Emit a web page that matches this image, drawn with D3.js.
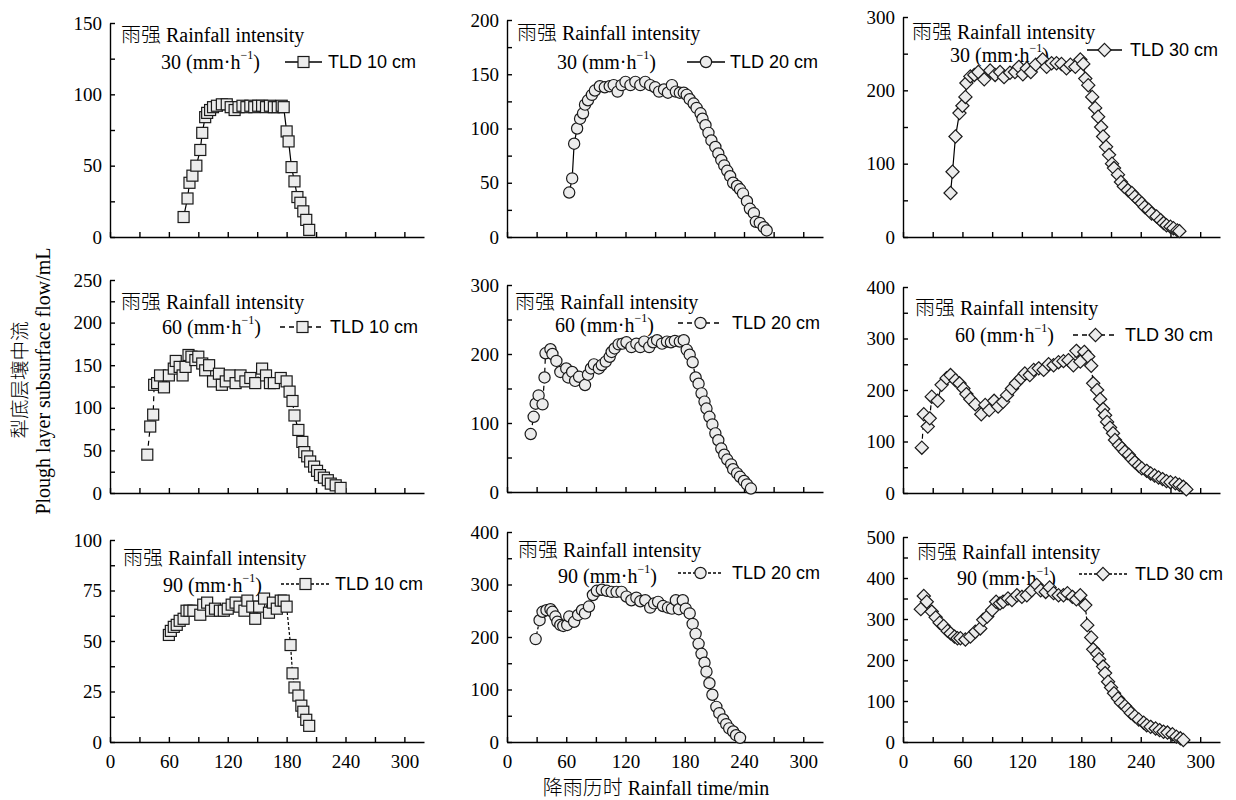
<!DOCTYPE html>
<html><head><meta charset="utf-8">
<script src="https://cdn.jsdelivr.net/npm/d3@7"></script>
<style>body{margin:0;background:#fff}</style>
</head><body>
<svg id="c" width="1236" height="800"></svg>
<script>
// ---- data: rainfall time (min) and plough-layer subsurface flow (mL) ----
const t10_i30 = [75,79,81,84,88,92,94,97,99,102,105,109,114,119,123,127,131,135,139,143,147,151,155,159,163,167,171,175,177,180,182,185,188,191,194,197,200,203];
const q10_i30 = [14,27,38,43,50,61,73,84,87,89,91,92,93,93,91,89,91,92,91,92,91,92,92,91,92,91,91,92,91,74,67,49,39,28,24,18,12,5];

const t20_i30 = [63,66,68,71,74,77,79,82,86,89,94,99,104,108,112,116,120,125,130,135,140,145,150,154,159,163,167,171,175,179,182,185,189,192,196,198,201,204,207,211,214,217,220,223,226,229,233,236,239,243,246,250,252,256,260,263];
const q20_i30 = [41,54,86,100,109,114,122,126,131,135,139,138,139,140,134,140,143,140,143,140,143,140,138,134,136,133,140,134,133,133,131,127,123,119,114,109,103,96,89,83,77,71,66,61,56,50,47,44,40,33,26,22,14,13,9,6];

const t30_i30 = [48,50,53,57,60,63,64,68,72,76,82,88,93,98,102,108,113,117,121,125,129,134,141,145,150,155,160,165,169,174,179,182,184,187,191,194,197,200,202,205,208,211,213,217,220,223,227,231,234,238,241,244,248,251,256,260,263,266,270,273,277,279];
const q30_i30 = [60,89,137,169,179,191,210,219,221,225,215,227,221,225,218,224,225,232,222,230,225,235,242,232,237,237,236,230,235,232,242,236,216,207,191,176,164,150,137,123,112,100,94,85,75,69,64,60,55,50,46,41,37,32,28,23,19,16,14,12,9,8];

const t10_i60 = [38,41,44,45,48,51,55,60,65,67,71,74,77,80,83,87,90,94,97,101,105,111,114,118,122,128,133,138,143,148,155,159,163,167,174,180,183,186,188,192,196,198,201,204,208,211,214,218,222,225,230,235];
const q10_i60 = [45,78,92,127,129,138,124,138,146,155,148,138,148,162,160,156,160,152,144,150,131,140,127,131,138,129,138,131,135,129,146,138,129,129,135,131,119,108,91,74,60,48,43,37,31,26,21,18,15,11,9,6];

const t20_i60 = [24,27,29,32,36,38,39,44,46,50,54,60,62,66,69,73,79,82,85,88,93,96,100,104,106,109,113,117,121,126,131,135,139,144,148,152,157,162,166,170,175,179,182,185,188,191,194,197,200,202,205,208,211,214,217,220,223,227,229,233,236,240,243,247];
const q20_i60 = [84,109,128,140,127,166,201,207,200,190,174,179,166,174,161,167,155,170,179,185,179,184,189,196,203,208,214,215,217,210,215,210,218,210,217,220,215,218,217,219,218,220,206,199,188,166,157,143,131,121,109,98,85,75,63,54,47,40,33,27,22,16,11,5];

const t30_i60 = [19,21,25,27,29,35,39,44,48,53,57,61,64,68,73,79,83,87,92,96,101,105,110,114,119,123,128,132,137,142,147,152,157,162,167,172,175,179,183,187,190,192,196,199,202,204,206,209,212,214,218,221,224,228,231,234,238,241,246,250,254,258,262,266,270,275,279,283,286];
const q30_i60 = [88,153,129,145,187,179,210,223,229,219,213,203,192,182,172,153,171,161,179,168,177,190,203,213,223,232,229,239,242,239,250,248,254,256,258,248,276,255,274,265,247,213,200,182,163,151,138,127,116,103,93,87,80,74,66,60,53,48,43,38,34,30,27,23,21,19,16,12,7];

const t10_i90 = [60,62,65,68,71,75,78,81,85,92,95,99,103,107,112,116,120,124,128,132,137,140,145,148,152,157,162,166,170,174,177,180,184,186,188,192,195,197,200,203];
const q10_i90 = [53,55,57,58,60,61,65,65,65,63,68,69,65,66,65,65,66,68,69,67,65,70,67,61,67,71,64,69,66,70,70,67,48,34,27,23,18,15,11,8];

const t20_i90 = [29,33,36,40,44,46,49,51,54,57,61,63,68,72,76,79,83,87,91,96,101,106,111,116,121,126,131,135,140,145,149,153,158,163,167,171,174,178,181,185,188,191,194,197,200,202,205,208,212,215,219,222,225,229,232,236];
const q20_i90 = [196,232,248,251,253,248,239,229,223,221,223,239,229,242,251,245,258,280,288,290,288,286,286,286,277,270,275,268,270,256,264,267,259,256,254,270,253,270,254,245,225,206,187,168,151,134,112,90,67,55,43,34,26,20,13,8];

const t30_i90 = [18,21,24,29,33,37,41,45,48,52,55,58,63,68,73,78,81,85,90,94,98,101,106,110,115,120,125,130,135,139,144,148,152,157,162,166,171,175,179,184,186,190,192,196,198,202,204,207,210,213,217,220,224,227,230,234,238,243,246,250,255,259,263,267,272,276,280,283];
const q30_i90 = [324,356,342,318,304,291,283,271,265,257,253,253,250,257,269,277,298,306,322,342,338,342,350,346,358,354,358,370,383,370,366,377,363,358,358,363,354,348,358,334,285,255,226,215,202,184,168,147,133,119,106,96,88,80,71,63,55,47,41,37,33,29,25,23,19,13,9,5];

const intensities = ["30","60","90"];
const depths = ["TLD 10 cm","TLD 20 cm","TLD 30 cm"];
const yMaxes = [[150,200,300],[250,300,400],[100,400,500]];
const yMajor = [[50,50,100],[50,100,100],[25,100,100]];
const xTicks = [0,30,60,90,120,150,180,210,240,270,300];
const titleText = "雨强 Rainfall intensity";
const xTitle = "降雨历时 Rainfall time/min";
const yTitle1 = "犁底层壤中流";
const yTitle2 = "Plough layer subsurface flow/mL";

const series = [
  [[t10_i30,q10_i30],[t20_i30,q20_i30],[t30_i30,q30_i30]],
  [[t10_i60,q10_i60],[t20_i60,q20_i60],[t30_i60,q30_i60]],
  [[t10_i90,q10_i90],[t20_i90,q20_i90],[t30_i90,q30_i90]]
];

// ---- layout (pixels) ----
const colL = [110,507,903];
const colW = [314,316,317];
const rowB = [[237,237,237],[493,492,493],[742,742,742]];
const rowT = [[23,20,17],[280,285,287],[540,532,537]];
// text offsets relative to (left, top): [l1x,l1y,l2x,l2y,legX1,legX2,legTx,legY]
const txt = [
  [[11,12,51,39,175,212,218,39],[10,13,50,42,180,218,223,42],[9,15,47,38,184,219,227,33]],
  [[11,22,52,47,170,215,220,47],[8,17,48,40,171,216,225,38],[12,21,52,48,170,215,222,48]],
  [[13,18,53,45,171,220,225,44],[11,18,51,44,171,216,225,41],[14,15,54,41,176,224,232,37]]
];
const dashes = [null,"5,4","3,2"];
const markers = ["square","circle","diamond"];

const svg = d3.select("#c");
const serif = "'Liberation Serif','Times New Roman','Noto Sans CJK SC',serif";
const sans = "'Liberation Sans',Arial,sans-serif";

function drawMarker(g, type, x, y) {
  const fill = "#ececec", stroke = "#1a1a1a", sw = 1.2;
  if (type === "square") {
    g.append("rect").attr("x", x-5.5).attr("y", y-5.5).attr("width", 11).attr("height", 11)
      .attr("fill", fill).attr("stroke", stroke).attr("stroke-width", sw);
  } else if (type === "circle") {
    g.append("circle").attr("cx", x).attr("cy", y).attr("r", 5.6)
      .attr("fill", fill).attr("stroke", stroke).attr("stroke-width", sw);
  } else {
    const s = 6.6;
    g.append("path").attr("d", `M${x},${y-s}L${x+s},${y}L${x},${y+s}L${x-s},${y}Z`)
      .attr("fill", fill).attr("stroke", stroke).attr("stroke-width", sw);
  }
}

for (let r = 0; r < 3; r++) {
  for (let c = 0; c < 3; c++) {
    const L = colL[c], W = colW[c], B = rowB[r][c], T = rowT[r][c];
    const yMax = yMaxes[r][c], step = yMajor[r][c];
    const x = d3.scaleLinear().domain([0,320]).range([L, L+W]);
    const y = d3.scaleLinear().domain([0,yMax]).range([B, T]);
    const g = svg.append("g");

    // y axis
    const majors = d3.range(0, yMax + 0.001, step);
    const minors = d3.range(step/2, yMax, step);
    const ya = g.append("g").attr("transform", `translate(${L},0)`)
      .call(d3.axisLeft(y).tickValues(majors).tickSizeInner(-5).tickSizeOuter(0).tickPadding(8));
    ya.append("g").call(d3.axisLeft(y).tickValues(minors).tickSize(-5).tickFormat(""))
      .select(".domain").remove();
    // x axis
    const xa = g.append("g").attr("transform", `translate(0,${B})`)
      .call(d3.axisBottom(x).tickValues(xTicks).tickSizeInner(-5).tickSizeOuter(0).tickPadding(13)
        .tickFormat(d => (r === 2 && d % 60 === 0) ? d : ""));
    [ya, xa].forEach(a => {
      a.selectAll("path, line").attr("stroke", "#000").attr("stroke-width", 1.4);
      a.selectAll("text").attr("font-family", serif).attr("font-size", 19).attr("fill", "#000");
    });

    // titles
    const o = txt[r][c];
    g.append("text").attr("x", L+o[0]).attr("y", T+o[1]).attr("dominant-baseline", "central")
      .attr("font-family", serif).attr("font-weight", 300).attr("font-size", 20).text(titleText);
    const t2 = g.append("text").attr("x", L+o[2]).attr("y", T+o[3]).attr("dominant-baseline", "central")
      .attr("font-family", serif).attr("font-size", 20);
    t2.append("tspan").text(intensities[r] + " (mm·h");
    t2.append("tspan").attr("dy", -7).attr("font-size", 12).text("−1");
    t2.append("tspan").attr("dy", 7).text(")");

    // data line
    const [ts, qs] = series[r][c];
    const pts = ts.map((t, i) => [x(t), y(qs[i])]);
    g.append("path").attr("d", d3.line()(pts)).attr("fill", "none").attr("stroke", "#000")
      .attr("stroke-width", 1.2).attr("stroke-dasharray", dashes[r]);
    pts.forEach(p => drawMarker(g, markers[c], p[0], p[1]));

    // legend
    const ly = T + o[7];
    g.append("line").attr("x1", L+o[4]).attr("x2", L+o[5]).attr("y1", ly).attr("y2", ly)
      .attr("stroke", "#000").attr("stroke-width", 1.3).attr("stroke-dasharray", dashes[r]);
    drawMarker(g, markers[c], L+(o[4]+o[5])/2, ly);
    g.append("text").attr("x", L+o[6]).attr("y", ly).attr("dominant-baseline", "central")
      .attr("font-family", sans).attr("font-size", 18).text(depths[c]);
  }
}

// axis titles
svg.append("text").attr("transform", "translate(20,380) rotate(-90)").attr("text-anchor", "middle")
  .attr("dominant-baseline", "central").attr("font-family", serif).attr("font-weight", 300)
  .attr("font-size", 19.5).text(yTitle1);
svg.append("text").attr("transform", "translate(43,381) rotate(-90)").attr("text-anchor", "middle")
  .attr("dominant-baseline", "central").attr("font-family", serif).attr("font-size", 20).text(yTitle2);
svg.append("text").attr("x", 656).attr("y", 788).attr("text-anchor", "middle")
  .attr("dominant-baseline", "central").attr("font-family", serif).attr("font-weight", 300)
  .attr("font-size", 20).text(xTitle);
</script>
</body></html>
